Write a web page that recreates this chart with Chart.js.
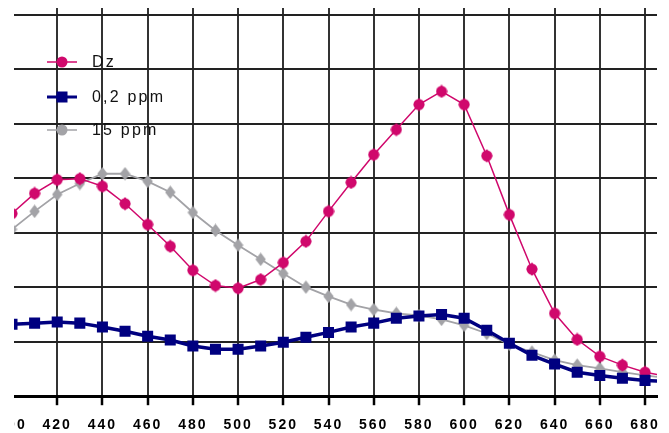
<!DOCTYPE html>
<html>
<head>
<meta charset="utf-8">
<script src="https://cdn.jsdelivr.net/npm/chart.js@4.4.1/dist/chart.umd.min.js"></script>
<style>
  html, body { margin: 0; padding: 0; background: #fff; overflow: hidden; }
  #wrap { position: absolute; left: -60px; top: 0; width: 729px; height: 433px; }
  #mask { position: absolute; left: 0; top: 0; width: 14px; height: 433px; background: #fff; }
</style>
</head>
<body>
<div id="wrap"><canvas id="chart" width="729" height="433"></canvas></div>
<div id="mask"></div>
<script>
// Absorbance-like curves

const wavelengths = [400, 410, 420, 430, 440, 450, 460, 470, 480, 490, 500, 510, 520, 530, 540,
    550, 560, 570, 580, 590, 600, 610, 620, 630, 640, 650, 660, 670, 680, 690];
const dzValues = [3.35, 3.72, 3.97, 3.99, 3.85, 3.53, 3.15, 2.75, 2.31, 2.03, 1.98, 2.14, 2.45, 2.84, 3.39,
    3.92, 4.43, 4.89, 5.35, 5.59, 5.35, 4.41, 3.33, 2.33, 1.52, 1.04, 0.73, 0.57, 0.44, 0.36];
const ppm02Values = [1.32, 1.34, 1.36, 1.34, 1.27, 1.19, 1.10, 1.03, 0.92, 0.86, 0.86, 0.92, 0.99, 1.08, 1.17,
    1.27, 1.34, 1.43, 1.47, 1.50, 1.43, 1.21, 0.97, 0.75, 0.59, 0.44, 0.38, 0.33, 0.29, 0.27];
const ppm15Values = [3.06, 3.39, 3.70, 3.90, 4.08, 4.08, 3.94, 3.74, 3.37, 3.04, 2.77, 2.51, 2.25, 2.00, 1.83,
    1.68, 1.59, 1.52, 1.48, 1.41, 1.30, 1.15, 0.95, 0.81, 0.66, 0.57, 0.51, 0.44, 0.38, 0.33];
const seriesLabels = ['Dz', '0,2 ppm', '15 ppm'];

const MAGENTA = '#d0086c';
const NAVY = '#000080';
const GREY = '#a3a3a7';

function makeMarker(w, h, color, kind) {
    const c = document.createElement('canvas');
    c.width = w;
    c.height = h;
    const g = c.getContext('2d');
    g.fillStyle = color;
    const cx = w / 2, cy = h / 2;
    if (kind === 'blob') {
        g.beginPath();
        g.ellipse(cx, cy, w / 2 - 0.5, h / 2 - 1.5, 0, 0, Math.PI * 2);
        g.fill();
    }
    g.beginPath();
    g.moveTo(cx, 0.3);
    g.lineTo(w - 0.3, cy);
    g.lineTo(cx, h - 0.3);
    g.lineTo(0.3, cy);
    g.closePath();
    g.fill();
    return c;
}

const dzMarker = makeMarker(12, 14, MAGENTA, 'blob');
const greyMarker = makeMarker(11, 14, GREY, 'diamond');

function toPoints(values) {
    return values.map((v, i) => ({ x: wavelengths[i], y: v }));
}

// legend drawn inside the plot, like the original
const legendPlugin = {
    id: 'innerLegend',
    afterDraw(chart) {
        const ctx = chart.ctx;
        const off = 60;
        const rows = [
            { label: seriesLabels[0], color: MAGENTA, width: 1.5, y: 62, mark: 'circle' },
            { label: seriesLabels[1], color: NAVY, width: 3, y: 97, mark: 'square' },
            { label: seriesLabels[2], color: GREY, width: 1.5, y: 130, mark: 'circle' }
        ];
        ctx.save();
        rows.forEach(r => {
            ctx.strokeStyle = r.color;
            ctx.lineWidth = r.width;
            ctx.beginPath();
            ctx.moveTo(off + 47, r.y);
            ctx.lineTo(off + 77, r.y);
            ctx.stroke();
            ctx.fillStyle = r.color;
            if (r.mark === 'circle') {
                ctx.beginPath();
                ctx.arc(off + 62, r.y, 5.5, 0, Math.PI * 2);
                ctx.fill();
            } else {
                ctx.fillRect(off + 56.5, r.y - 5.5, 11, 11);
            }
            ctx.fillStyle = '#111';
            ctx.font = '16px "Liberation Sans", Arial, sans-serif';
            ctx.letterSpacing = '2.2px';
            ctx.textBaseline = 'middle';
            ctx.textAlign = 'left';
            ctx.fillText(r.label, off + 92, r.y + 1);
        });
        ctx.restore();
    }
};

const spacingPlugin = {
    id: 'tickSpacing',
    beforeDraw(chart) {
        chart.ctx.letterSpacing = '2px';
    }
};

const ctx = document.getElementById('chart');
new Chart(ctx, {
    type: 'line',
    data: {
        datasets: [
            {
                label: seriesLabels[1],
                data: toPoints(ppm02Values),
                borderColor: NAVY,
                backgroundColor: NAVY,
                borderWidth: 3.5,
                pointStyle: 'rect',
                pointRadius: 7.8,
                pointBorderWidth: 0,
                order: 0,
                clip: 0
            },
            {
                label: seriesLabels[0],
                data: toPoints(dzValues),
                borderColor: MAGENTA,
                backgroundColor: MAGENTA,
                borderWidth: 1.5,
                pointStyle: dzMarker,
                order: 1,
                clip: 0
            },
            {
                label: seriesLabels[2],
                data: toPoints(ppm15Values),
                borderColor: GREY,
                backgroundColor: GREY,
                borderWidth: 1.8,
                pointStyle: greyMarker,
                order: 2,
                clip: 0
            }
        ]
    },
    options: {
        responsive: false,
        animation: false,
        devicePixelRatio: 1,
        layout: { padding: { left: 72, right: 12, top: 8, bottom: -13 } },
        plugins: {
            legend: { display: false },
            tooltip: { enabled: false }
        },
        scales: {
            x: {
                type: 'linear',
                min: 400,
                max: 685.3,
                grid: {
                    color: '#333',
                    lineWidth: 2,
                    drawTicks: true,
                    tickLength: 9,
                    tickColor: '#000',
                    tickWidth: 2.5
                },
                border: { display: true, color: '#000', width: 3 },
                ticks: {
                    stepSize: 20,
                    includeBounds: false,
                    maxRotation: 0,
                    autoSkip: false,
                    padding: 12,
                    color: '#000',
                    font: { family: '"Liberation Sans", Arial, sans-serif', size: 14, weight: 'bold' }
                }
            },
            y: {
                min: 0,
                max: 7.12,
                grid: { color: '#222', lineWidth: 2, drawTicks: false },
                border: { display: false },
                ticks: { display: false, stepSize: 1, includeBounds: false }
            }
        }
    },
    plugins: [spacingPlugin, legendPlugin]
});
</script>
</body>
</html>
